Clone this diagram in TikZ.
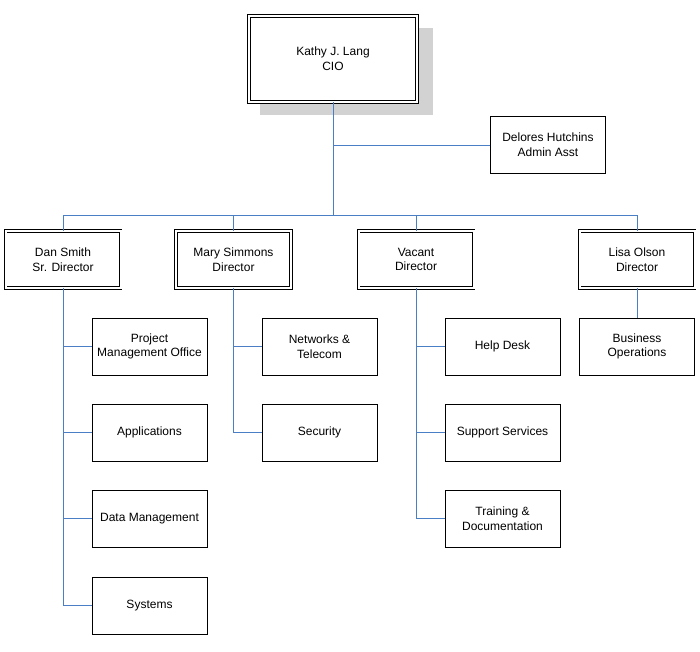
\documentclass[tikz,border=0pt]{standalone}
\usepackage{fontspec}
\setmainfont{Liberation Sans}
\usetikzlibrary{positioning}
\definecolor{linkblue}{HTML}{4A7FC6}
\tikzstyle{node:unit}=[rectangle,draw,thin,fill=white,minimum width=86.25pt,minimum height=42.75pt,align=center,font=\fontsize{9}{11}\selectfont,inner sep=1pt]
\tikzstyle{node:head}=[node:unit,double,double distance=1.5pt]
\tikzstyle{draw:link}=[linkblue, thin]

\begin{document}
\begin{tikzpicture}[x=0.75pt, y=-0.75pt]
        \useasboundingbox (0,0) rectangle (700,651);

        % Chief
        \fill[gray!35] (260,28) rectangle (433,115);
        \node[node:head, minimum width=126pt, minimum height=64.5pt] (cio) at (333,59) {Kathy J. Lang\\CIO};
        \node[node:unit] (admin) at (548,145) {Delores Hutchins\\Admin Asst};

        % Directors
        \node[node:head] (dan) at (63,259.5) {Dan Smith\\Sr. Director};
        \node[node:head] (mary) at (233.5,259.5) {Mary Simmons\\Director};
        \node[node:head] (vacant) at (416,259.5) {Vacant\\Director};
        \node[node:head] (lisa) at (637,259.5) {Lisa Olson\\Director};

        % Units
        \node[node:unit] (pmo) at (149.5,346.5) {Project\\Management Office};
        \node[node:unit] (apps) at (149.5,432.5) {Applications};
        \node[node:unit] (data) at (149.5,518.5) {Data Management};
        \node[node:unit] (sys) at (149.5,605.5) {Systems};
        \node[node:unit] (net) at (319.5,346.5) {Networks \&\\Telecom};
        \node[node:unit] (sec) at (319.5,432.5) {Security};
        \node[node:unit] (help) at (502.5,346.5) {Help Desk};
        \node[node:unit] (supp) at (502.5,432.5) {Support Services};
        \node[node:unit] (train) at (502.5,518.5) {Training \&\\Documentation};
        \node[node:unit] (bizops) at (637,346.5) {Business\\Operations};

        % Connections
        \coordinate (bus) at (333,215);
        \coordinate (tap) at (333,145);
        \draw[draw:link] (cio) -- (bus);
        \draw[draw:link] (tap) -- (admin);
        \draw[draw:link] (bus) -| (dan);
        \draw[draw:link] (bus) -| (mary);
        \draw[draw:link] (bus) -| (vacant);
        \draw[draw:link] (bus) -| (lisa);

        \draw[draw:link] (dan) |- (pmo);
        \draw[draw:link] (dan) |- (apps);
        \draw[draw:link] (dan) |- (data);
        \draw[draw:link] (dan) |- (sys);
        \draw[draw:link] (mary) |- (net);
        \draw[draw:link] (mary) |- (sec);
        \draw[draw:link] (vacant) |- (help);
        \draw[draw:link] (vacant) |- (supp);
        \draw[draw:link] (vacant) |- (train);
        \draw[draw:link] (lisa) -- (bizops);

    \end{tikzpicture}
\end{document}
